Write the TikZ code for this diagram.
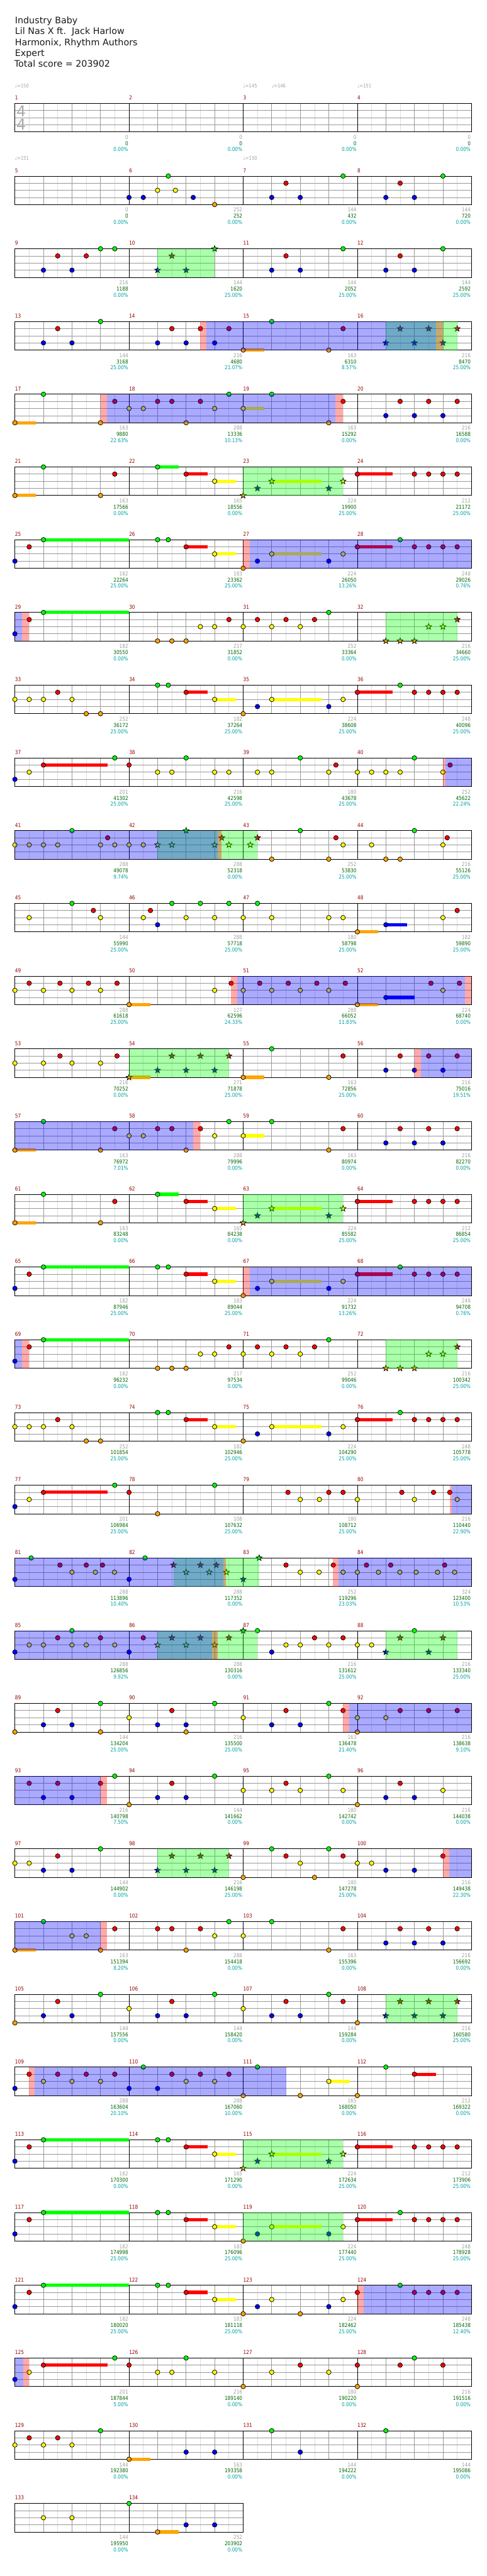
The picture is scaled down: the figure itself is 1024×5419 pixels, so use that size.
\documentclass[tikz,border=0pt]{standalone}
\usepackage{fontspec}
\setmainfont{DejaVu Sans}
\newfontfamily\labelfont[FakeStretch=0.85]{DejaVu Sans}

\definecolor{cg}{RGB}{0,255,0}
\definecolor{cr}{RGB}{255,0,0}
\definecolor{cy}{RGB}{255,255,0}
\definecolor{cb}{RGB}{0,0,255}
\definecolor{co}{RGB}{255,165,0}
\definecolor{mred}{RGB}{150,0,0}
\definecolor{lgray}{RGB}{160,160,160}
\definecolor{dgreen}{RGB}{0,100,0}
\definecolor{pteal}{RGB}{0,160,160}
\definecolor{gridmid}{RGB}{153,153,153}
\definecolor{gridlight}{RGB}{221,221,221}
\definecolor{sigray}{RGB}{170,170,170}

% lanes: g r y b o (top to bottom)
\def\lyg{0}\def\lyr{15}\def\lyy{30}\def\lyb{45}\def\lyo{60}
\newcommand{\nts}[2]{\edef\lny{\csname ly#1\endcsname}%
  \foreach \bt in {#2}{\filldraw[note,fill=c#1] ({60*\bt},\lny) circle[radius=4.8];}}
\newcommand{\sts}[2]{\edef\lny{\csname ly#1\endcsname}%
  \foreach \bt in {#2}{\filldraw[note,fill=c#1,shift={({60*\bt},\lny)}]
    (-90:6.5) -- (-54:2.7) -- (-18:6.5) -- (18:2.7) -- (54:6.5) -- (90:2.7)
    -- (126:6.5) -- (162:2.7) -- (198:6.5) -- (234:2.7) -- cycle;}}
\newcommand{\sus}[3]{\edef\lny{\csname ly#1\endcsname}%
  \fill[c#1] ({60*#2},{\lny-3.4}) rectangle ({60*#3},{\lny+3.4});}
% overdrive / phrase overlays
\newcommand{\zg}[2]{\fill[cg,fill opacity=0.333] ({60*#1},0) rectangle ({60*#2},60);}
\newcommand{\zp}[2]{\fill[cr,fill opacity=0.333] ({60*#1},0) rectangle ({60*#2},60);}
\newcommand{\zb}[2]{\fill[cb,fill opacity=0.333] ({60*#1},0) rectangle ({60*#2},60);}
\newcommand{\stats}[2]{\foreach \gv/\sv/\pv [count=\kv] in {#2}{
  \node[gnum] (g#1-\kv) at ({240*\kv-1.5},75.5) {\gv};
  \node[snum] (s#1-\kv) at ({240*\kv-1.5},88.5) {\sv};
  \node[pnum] (p#1-\kv) at ({240*\kv-1.5},101.5) {\pv\%};}}

% repeated sections
\newcommand{\riffA}{%
  \sus{o}{0}{0.74}\sus{g}{5}{5.75}\sus{r}{6}{6.75}\sus{y}{7}{7.74}\sus{y}{9}{10.74}\sus{r}{12}{13.24}
  \nts{o}{0,3}\nts{g}{1,5}\nts{r}{3.5,6,12,14,14.5,15,15.5}\nts{y}{7}
  \sts{o}{8}\sts{b}{8.5,11}\sts{y}{9,11.5}
  \zg{8}{11.5}}
\newcommand{\riffB}{%
  \sus{g}{1}{4}\sus{r}{6}{6.75}\sus{y}{7}{7.74}\sus{y}{9}{10.74}\sus{r}{12}{13.24}
  \nts{b}{0,8.5,11}\nts{r}{0.5,6,12,14,14.5,15,15.5}\nts{g}{1,5,5.375,13.5}\nts{y}{7,9,11.5}\nts{o}{8}
  \zp{8}{8.23}\zb{8.23}{16}}
\newcommand{\riffC}{%
  \sus{g}{1}{4}
  \nts{b}{0}\nts{r}{0.5,7.5,8.5,9.5,10.5}\nts{g}{1,11}\nts{o}{5,5.5,6}\nts{y}{6.5,7,8,9,10}
  \sts{o}{13,13.5,14}\sts{y}{14.5,15}\sts{r}{15.5}
  \zg{13}{15.5}\zp{0.24}{0.5}\zb{0}{0.24}}
\newcommand{\riffD}{%
  \sus{r}{6}{6.75}\sus{y}{7}{7.74}\sus{y}{9}{10.74}\sus{r}{12}{13.24}
  \nts{y}{0,0.5,1,2,7,9,11.5}\nts{r}{1.5,6,12,14,14.5,15,15.5}\nts{o}{2.5,3,8}\nts{g}{5,5.375,13.5}\nts{b}{8.5,11}}

\begin{document}
\begin{tikzpicture}[x=0.75pt, y=-0.75pt,
    note/.style={draw=black, line width=0.75pt},
    row/.style={shift={(31.33,{217.33+153*(#1-1)})}},
    halfl/.style={draw=gridlight, line width=0.75pt},
    beatl/.style={draw=gridmid, line width=0.75pt},
    barl/.style={draw=black, line width=0.75pt},
    title/.style={anchor=base west, inner sep=0, font=\fontsize{14.2}{17}\selectfont, text=black!90},
    mnum/.style={anchor=base west, inner sep=0, font=\labelfont\fontsize{8.6}{10}\selectfont, text=mred},
    gnum/.style={anchor=base east, inner sep=0, font=\labelfont\fontsize{8.6}{10}\selectfont, text=lgray},
    snum/.style={gnum, text=dgreen},
    pnum/.style={gnum, text=pteal},
    tempo/.style={anchor=base west, inner sep=0, font=\labelfont\fontsize{8}{10}\selectfont, text=lgray},
    tsig/.style={inner sep=0, font=\fontsize{23.6}{24}\selectfont, text=sigray},
]
\useasboundingbox (0,0) rectangle (1024,5419);

% header
\node[title] (song) at (31.3,49.3) {Industry Baby};
\node[title] (artist) at (31.3,72.3) {Lil Nas X ft.~~Jack Harlow};
\node[title] (charter) at (31.3,95.3) {Harmonix,~Rhythm Authors};
\node[title] (diff) at (31.3,118.3) {Expert};
\node[title] (total) at (30,141.3) {Total score = 203902};

% staves
\foreach \rv in {1,...,34}{
  \pgfmathtruncatemacro\nm{\rv==34 ? 2 : 4}
  \pgfmathtruncatemacro\nh{8*\nm-1}
  \pgfmathtruncatemacro\nq{4*\nm-1}
  \begin{scope}[row=\rv]
    \foreach \kv in {1,3,...,\nh} \draw[halfl] ({30*\kv},0) -- ({30*\kv},60);
    \foreach \kv in {1,...,\nq} \draw[beatl] ({60*\kv},0) -- ({60*\kv},60);
    \foreach \yv in {15,30,45} \draw[beatl] (0,\yv) -- ({240*\nm},\yv);
    \foreach \kv in {1,...,\nm}{
      \pgfmathtruncatemacro\mv{4*(\rv-1)+\kv}
      \node[mnum] (m\mv) at ({240*(\kv-1)},-7.5) {\mv};
      \ifnum\kv<\nm \draw[barl] ({240*\kv},0) -- ({240*\kv},60); \fi
    }
    \draw[barl] (0,0) rectangle ({240*\nm},60);
  \end{scope}
}

% row 1
\begin{scope}[row=1]
\node[tsig] (sig1) at (13.2,16) {4};
\node[tsig] (sig2) at (13.2,44.7) {4};
\node[tempo] (bpm1) at (0,-33.3) {♩=150};
\node[tempo] (bpm2) at (480,-33.3) {♩=145};
\node[tempo] (bpm3) at (540,-33.3) {♩=146};
\node[tempo] (bpm4) at (720,-33.3) {♩=151};
\stats{1}{0/0/0.00,0/0/0.00,0/0/0.00,0/0/0.00}
\end{scope}

% row 2
\begin{scope}[row=2]
\node[tempo] (bpm5) at (0,-33.3) {♩=151};
\node[tempo] (bpm6) at (480,-33.3) {♩=150};
\nts{o}{7}\nts{b}{4,4.5,6.25,9,10,13,14}\nts{y}{5,5.625}\nts{g}{5.375,11.5,15}\nts{r}{9.5,13.5}
\stats{2}{0/0/0.00,252/252/0.00,144/432/0.00,144/720/0.00}
\end{scope}

% row 3
\begin{scope}[row=3]
\nts{b}{1,2,9,10,13,14}\nts{r}{1.5,2.5,9.5,13.5}\nts{g}{3,3.5,11.5,15}
\sts{b}{5,6}\sts{r}{5.5}\sts{g}{7}
\zg{5}{7}
\stats{3}{216/1188/0.00,144/1620/25.00,144/2052/25.00,144/2592/25.00}
\end{scope}

% row 4
\begin{scope}[row=4]
\sus{o}{8}{8.74}
\nts{b}{1,2,5,6,7}\nts{r}{1.5,5.5,6.5,7.5,11.5}\nts{g}{3,9}\nts{o}{8,11}
\sts{r}{13.5,14.5,15.5}\sts{b}{13,14,15}
\zg{13}{15.5}\zp{6.5}{6.72}\zp{14.75}{15}\zb{6.72}{14.75}
\stats{4}{144/3168/25.00,216/4680/21.07,163/6310/8.57,216/8470/25.00}
\end{scope}

% row 5
\begin{scope}[row=5]
\sus{o}{0}{0.74}\sus{y}{8}{8.74}
\nts{o}{0,3,6,11}\nts{g}{1,7.5,9}\nts{r}{3.5,5,5.5,6.5,11.5,13.5,14.5,15.5}\nts{y}{4,4.5,7,8}\nts{b}{13,14,15}
\zp{3}{3.23}\zp{11.24}{11.5}\zb{3.23}{11.24}
\stats{5}{163/9880/22.63,288/13336/10.13,163/15292/0.00,216/16588/0.00}
\end{scope}

% row 6
\begin{scope}[row=6]
\riffA
\stats{6}{163/17566/0.00,165/18556/0.00,224/19900/25.00,212/21172/25.00}
\end{scope}

% row 7
\begin{scope}[row=7]
\riffB
\stats{7}{182/22264/25.00,183/23362/25.00,224/26050/13.26,248/29026/0.76}
\end{scope}

% row 8
\begin{scope}[row=8]
\riffC
\stats{8}{182/30550/0.00,217/31852/0.00,252/33364/0.00,216/34660/25.00}
\end{scope}

% row 9
\begin{scope}[row=9]
\riffD
\stats{9}{252/36172/25.00,182/37264/25.00,224/38608/25.00,248/40096/25.00}
\end{scope}

% row 10
\begin{scope}[row=10]
\sus{r}{1}{3.24}
\nts{b}{0}\nts{y}{0.5,5,5.5,7,7.5,8.5,9,11,12,12.5,13,13.5,15}\nts{r}{1,4,11.25,15.25}\nts{g}{3.5,6,10,14}
\zp{15}{15.1}\zb{15.1}{16}
\stats{10}{201/41302/25.00,216/42598/25.00,180/43678/25.00,252/45622/22.24}
\end{scope}

% row 11
\begin{scope}[row=11]
\nts{y}{0,0.5,1,1.5,3,3.5,4,4.5,11.5,12.5,15}\nts{g}{2,10,14}\nts{r}{3.25,11.25,15.15}\nts{o}{9,11,13,13.5}
\sts{y}{5,5.5,7,7.5,8.25}\sts{g}{6}\sts{r}{7.25,8.5}
\zg{5}{8.5}\zp{7.1}{7.24}\zb{0}{7.1}
\stats{11}{288/49078/9.74,288/52318/0.00,252/53830/25.00,216/55126/25.00}
\end{scope}

% row 12
\begin{scope}[row=12]
\sus{o}{12}{12.74}\sus{b}{13}{13.74}
\nts{y}{0.5,3,4.5,6,7,8,9,11,11.5,15}\nts{g}{2,5.5,6.5,7.5,8.5}\nts{r}{2.75,4.75,15.5}\nts{b}{5,13}\nts{o}{12}
\stats{12}{144/55990/25.00,288/57718/25.00,180/58798/25.00,182/59890/25.00}
\end{scope}

% row 13
\begin{scope}[row=13]
\sus{o}{4}{4.74}\sus{o}{12}{12.74}\sus{b}{13}{14}
\nts{y}{0,1,2,3,7,8,9,10,11,15}\nts{r}{0.5,1.58,2.58,3.58,7.58,8.58,9.58,10.58,11.58,14.58,15.58}\nts{o}{4,12}\nts{b}{13}
\zp{7.58}{7.78}\zp{15.78}{16}\zb{7.78}{15.78}
\stats{13}{288/61618/25.00,127/62596/24.33,288/66052/11.83,224/68740/0.00}
\end{scope}

% row 14
\begin{scope}[row=14]
\sus{o}{4}{4.74}\sus{o}{8}{8.74}
\nts{y}{0,1,2,3}\nts{r}{1.58,3.58,11.5,13.5,14.5,15.5}\nts{o}{8,11}\nts{g}{9}\nts{b}{13,14,15}
\sts{o}{4}\sts{r}{5.5,6.5,7.5}\sts{b}{5,6,7}
\zg{4}{7.5}\zp{14}{14.23}\zb{14.23}{16}
\stats{14}{216/70252/0.00,271/71878/25.00,163/72856/25.00,216/75016/19.51}
\end{scope}

% row 15
\begin{scope}[row=15]
\sus{o}{0}{0.74}\sus{y}{8}{8.74}
\nts{o}{0,3,6,11}\nts{g}{1,7.5,9}\nts{r}{3.5,5,5.5,6.5,11.5,13.5,14.5,15.5}\nts{y}{4,4.5,7,8}\nts{b}{13,14,15}
\zp{6.25}{6.5}\zb{0}{6.25}
\stats{15}{163/76972/7.01,288/79996/0.00,163/80974/0.00,216/82270/0.00}
\end{scope}

% row 16
\begin{scope}[row=16]
\riffA
\stats{16}{163/83248/0.00,165/84238/0.00,224/85582/25.00,212/86854/25.00}
\end{scope}

% row 17
\begin{scope}[row=17]
\riffB
\stats{17}{182/87946/25.00,183/89044/25.00,224/91732/13.26,248/94708/0.76}
\end{scope}

% row 18
\begin{scope}[row=18]
\riffC
\stats{18}{182/96232/0.00,217/97534/0.00,252/99046/0.00,216/100342/25.00}
\end{scope}

% row 19
\begin{scope}[row=19]
\riffD
\stats{19}{252/101854/25.00,182/102946/25.00,224/104290/25.00,248/105778/25.00}
\end{scope}

% row 20
\begin{scope}[row=20]
\sus{r}{1}{3.24}
\nts{b}{0}\nts{y}{0.5,10,10.67,12,14,15.5}\nts{r}{1,4,9.57,11,11.5,13.56,14.67,15.24}\nts{g}{3.5,7}\nts{o}{5}
\zp{15.24}{15.3}\zb{15.3}{16}
\stats{20}{201/106984/25.00,108/107632/25.00,180/108712/25.00,216/110440/22.90}
\end{scope}

% row 21
\begin{scope}[row=21]
\nts{b}{0,4}\nts{g}{0.57,4.56}\nts{r}{1.58,2.5,3.07,9.5,11.16,12.32,13.17,15.06}
\nts{y}{2,2.82,3.49,10,10.66,11.5,12,12.74,13.49,14.06,14.81,15.41}
\sts{r}{5.56,6.5,7.06}\sts{y}{6,6.81,7.41}\sts{b}{8}\sts{g}{8.56}
\zg{5.56}{8.56}\zp{7.31}{7.39}\zp{11.14}{11.35}\zb{0}{7.31}\zb{11.35}{16}
\stats{21}{288/113896/10.40,288/117352/0.00,252/119296/23.03,324/123400/10.53}
\end{scope}

% row 22
\begin{scope}[row=22]
\nts{y}{0.5,1,2,2.5,3.5,9.5,10,11,12,12.5}\nts{r}{1.5,3,4.5,10.5,11.5}\nts{b}{0,4,9}\nts{g}{2,8.5,14}
\sts{y}{5,6,7}\sts{r}{5.5,6.5,7.5}\sts{g}{8}\sts{b}{13,14.5}\sts{r}{13.5,15}
\zg{5}{8.5}\zg{13}{15.5}\zp{6.9}{7.1}\zb{0}{6.9}
\stats{22}{288/126856/9.92,288/130316/0.00,216/131612/25.00,216/133340/25.00}
\end{scope}

% row 23
\begin{scope}[row=23]
\nts{b}{1,2,5,6,9,10}\nts{r}{1.5,5.5,9.5,11.5,13.5,14.5,15.5}\nts{g}{3,7,11}\nts{y}{4,8,12,13}\nts{o}{0,3,6,12}
\zp{11.5}{11.72}\zb{11.72}{16}
\stats{23}{144/134204/25.00,216/135500/25.00,163/136478/21.40,216/138638/9.10}
\end{scope}

% row 24
\begin{scope}[row=24]
\nts{b}{1,2,5,6,13,14}\nts{r}{0.5,1.5,3,5.5,9.5,13.5}\nts{g}{3.5,7,11}\nts{y}{8,9,10,11.5,15}\nts{o}{4,12}
\zp{3}{3.22}\zb{0}{3}
\stats{24}{216/140798/7.50,144/141662/0.00,180/142742/0.00,216/144038/0.00}
\end{scope}

% row 25
\begin{scope}[row=25]
\nts{b}{1,2,13,14}\nts{r}{1.5,9.5,11.5,15}\nts{g}{3,9,11}\nts{y}{0,0.5,10,12,12.5}\nts{o}{8,10.5}
\sts{b}{5,6,7}\sts{r}{5.5,6.5,7.5}
\zg{5}{7.5}\zp{15}{15.23}\zb{15.23}{16}
\stats{25}{144/144902/0.00,216/146198/25.00,180/147278/25.00,216/149438/22.30}
\end{scope}

% row 26
\begin{scope}[row=26]
\sus{o}{0}{0.74}
\nts{o}{0,3,6,11}\nts{g}{1,7.5,9}\nts{r}{3.5,5,5.5,6.5,11.5,13.5,14.5,15.5}\nts{y}{2,2.5,7,8}\nts{b}{13,14,15}
\zp{3}{3.23}\zb{0}{3}
\stats{26}{163/151394/8.20,288/154418/0.00,163/155396/0.00,216/156692/0.00}
\end{scope}

% row 27
\begin{scope}[row=27]
\nts{b}{1,2,5,6,9,10}\nts{r}{1.5,5.5,9.5,11.5}\nts{g}{3,7,11}\nts{y}{4,8}\nts{o}{0,12}
\sts{r}{13.5,14.5,15.5}\sts{b}{13,14,15}
\zg{13}{15.5}
\stats{27}{144/157556/0.00,144/158420/0.00,144/159284/0.00,216/160580/25.00}
\end{scope}

% row 28
\begin{scope}[row=28]
\sus{y}{11}{11.74}\sus{r}{14}{14.75}
\nts{b}{0,4,5}\nts{r}{0.5,1.5,2.5,3.5,5.5,6.5,7.5,14}\nts{y}{1,2,3,6,7,11}\nts{g}{4.5,8.5,13}\nts{o}{8,10,12}
\zp{0.5}{0.7}\zb{0.7}{9.5}
\stats{28}{288/163604/20.10,288/167060/10.00,165/168050/0.00,212/169322/0.00}
\end{scope}

% row 29
\begin{scope}[row=29]
\sus{g}{1}{4}\sus{r}{6}{6.75}\sus{y}{7}{7.74}\sus{y}{9}{10.74}\sus{r}{12}{13.24}
\nts{b}{0}\nts{r}{0.5,6,12,14,14.5,15,15.5}\nts{g}{1,5,5.375}\nts{y}{7}
\sts{o}{8}\sts{b}{8.5,11}\sts{y}{9,11.5}
\zg{8}{11.5}
\stats{29}{182/170300/0.00,165/171290/0.00,224/172634/25.00,212/173906/25.00}
\end{scope}

% row 30
\begin{scope}[row=30]
\sus{g}{1}{4}\sus{r}{6}{6.75}\sus{y}{7}{7.74}\sus{y}{9}{10.74}\sus{r}{12}{13.24}
\nts{b}{0,8.5,11}\nts{r}{0.5,6,12,14,14.5,15,15.5}\nts{g}{1,5,5.375,13.5}\nts{y}{7,9,11.5}\nts{o}{8}
\zg{8}{11.5}
\stats{30}{182/174998/25.00,183/176096/25.00,224/177440/25.00,248/178928/25.00}
\end{scope}

% row 31
\begin{scope}[row=31]
\sus{g}{1}{4}\sus{r}{6}{6.75}\sus{y}{7}{7.74}
\nts{b}{0,8.5,11}\nts{r}{0.5,6,12,14,14.5,15,15.5}\nts{g}{1,5,5.375,13.5}\nts{y}{7,9,11.5}\nts{o}{8,10}
\zp{12}{12.22}\zb{12.22}{16}
\stats{31}{182/180020/25.00,183/181118/25.00,224/182462/25.00,248/185438/12.40}
\end{scope}

% row 32
\begin{scope}[row=32]
\sus{r}{1}{3.24}
\nts{b}{0}\nts{y}{0.5,5,5.5,7,9,11}\nts{r}{1,4,10,12,13.5,15}\nts{g}{3.5,6,14}\nts{o}{8,12}
\zp{0.3}{0.5}\zb{0}{0.3}
\stats{32}{201/187844/5.00,216/189140/0.00,180/190220/0.00,216/191516/0.00}
\end{scope}

% row 33
\begin{scope}[row=33]
\sus{o}{4}{4.74}
\nts{y}{0,1,2}\nts{r}{0.5,1.5}\nts{o}{4}\nts{b}{6,7,10}\nts{g}{3,9,13}
\stats{33}{144/192380/0.00,163/193358/0.00,144/194222/0.00,144/195086/0.00}
\end{scope}

% row 34
\begin{scope}[row=34]
\sus{o}{5}{5.74}
\nts{g}{4}\nts{o}{5}\nts{b}{6,7}\nts{y}{1,2}
\stats{34}{144/195950/0.00,252/203902/0.00}
\end{scope}
\end{tikzpicture}
\end{document}
